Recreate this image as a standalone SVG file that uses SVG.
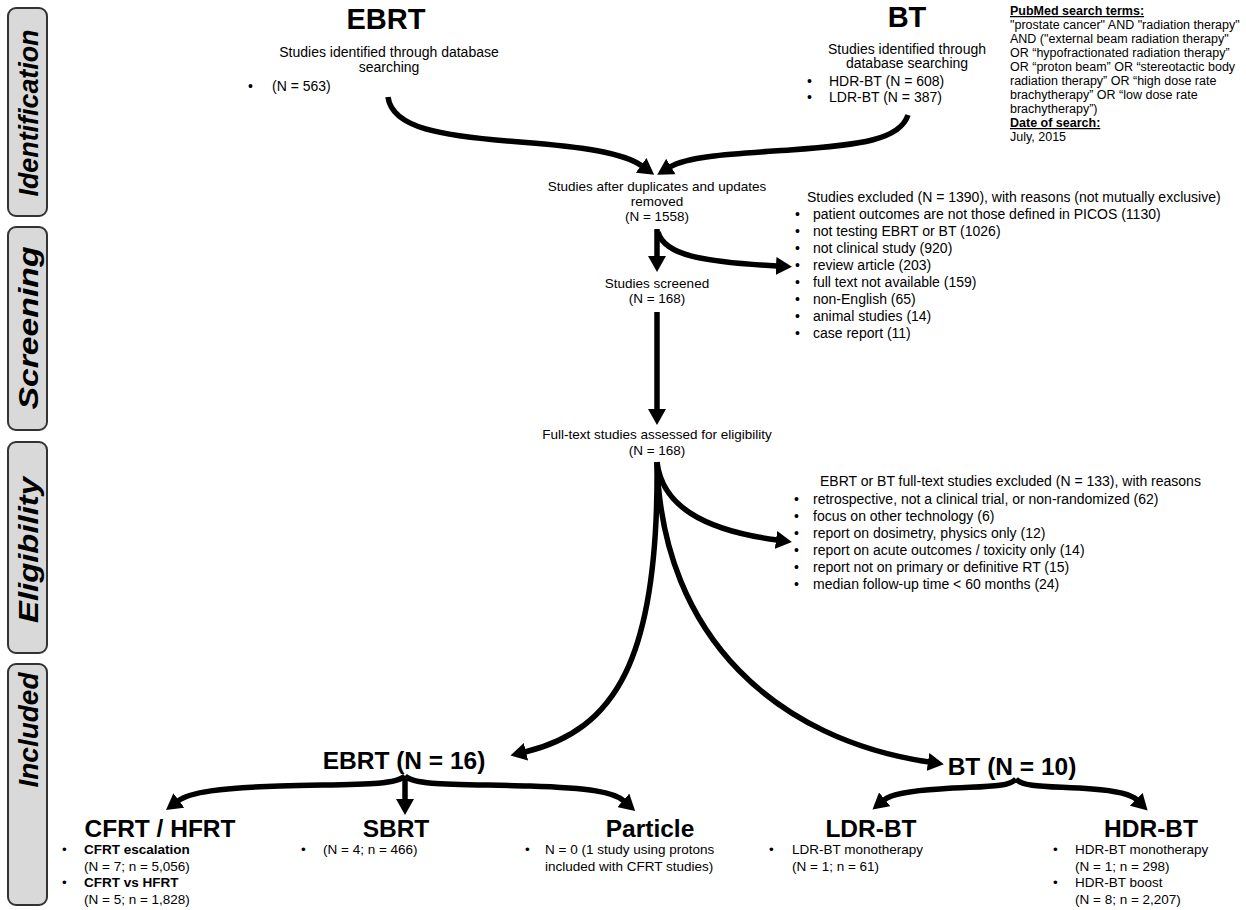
<svg xmlns="http://www.w3.org/2000/svg" width="1246" height="910" viewBox="0 0 1246 910">
<style>
text{font-family:"Liberation Sans",Arial,sans-serif;fill:#000}
.side{font-size:28px;font-weight:bold;font-style:italic;text-anchor:middle}
.box{fill:#d9d9d9;stroke:#333;stroke-width:2}
.h1{font-size:29px;font-weight:bold;text-anchor:middle}
.h2{font-size:24.5px;font-weight:bold;text-anchor:middle}
.h3{font-size:24.5px;font-weight:bold;text-anchor:middle}
.t14{font-size:14px}
.t13{font-size:13.5px}
.li{font-size:14px}
.pm{font-size:12.5px}
.b{font-weight:bold}
.u{text-decoration:underline}
.c{text-anchor:middle}
.bt{font-size:13.5px}
.arr{fill:none;stroke:#000;stroke-width:5.5}
</style>
<defs>
<marker id="ah" viewBox="0 0 16 18" markerWidth="16" markerHeight="18" markerUnits="userSpaceOnUse" refX="1" refY="9" orient="auto">
<path d="M0,0 L16,9 L0,18 z" fill="#000"/>
</marker>
</defs>

<g id="stage-identification">
<rect class="box" x="8" y="8" width="39" height="208" rx="8"/>
<text class="side" transform="translate(38,113) rotate(-90)" textLength="167" lengthAdjust="spacingAndGlyphs">Identification</text>
</g>
<g id="stage-screening">
<rect class="box" x="8" y="227" width="39" height="203" rx="8"/>
<text class="side" transform="translate(38,328) rotate(-90)" textLength="163" lengthAdjust="spacingAndGlyphs">Screening</text>
</g>
<g id="stage-eligibility">
<rect class="box" x="8" y="442" width="39" height="211" rx="8"/>
<text class="side" transform="translate(38,550) rotate(-90)" textLength="146" lengthAdjust="spacingAndGlyphs">Eligibility</text>
</g>
<g id="stage-included">
<rect class="box" x="8" y="664" width="39" height="241" rx="8"/>
<text class="side" transform="translate(38,730) rotate(-90)" textLength="115" lengthAdjust="spacingAndGlyphs">Included</text>
</g>

<g id="ebrt-search">
<text class="h1" x="386" y="29">EBRT</text>
<text class="t14 c" x="389" y="57">Studies identified through database</text>
<text class="t14 c" x="389" y="72">searching</text>
<text class="t14" x="248" y="91">•</text>
<text class="t14" x="272" y="91">(N = 563)</text>
</g>

<g id="bt-search">
<text class="h1" x="907" y="27">BT</text>
<text class="t14 c" x="907" y="54">Studies identified through</text>
<text class="t14 c" x="907" y="68">database searching</text>
<text class="t14" x="807" y="86">•</text>
<text class="t14" x="829" y="86">HDR-BT (N = 608)</text>
<text class="t14" x="807" y="102">•</text>
<text class="t14" x="829" y="102">LDR-BT (N = 387)</text>
</g>

<g id="pubmed-note">
<text class="pm b u" x="1010" y="15">PubMed search terms:</text>
<text class="pm" x="1010" y="29">"prostate cancer" AND "radiation therapy"</text>
<text class="pm" x="1010" y="43">AND ("external beam radiation therapy"</text>
<text class="pm" x="1010" y="57">OR “hypofractionated radiation therapy”</text>
<text class="pm" x="1010" y="71">OR “proton beam” OR “stereotactic body</text>
<text class="pm" x="1010" y="85">radiation therapy” OR “high dose rate</text>
<text class="pm" x="1010" y="99">brachytherapy”  OR “low dose rate</text>
<text class="pm" x="1010" y="113">brachytherapy”)</text>
<text class="pm b u" x="1010" y="127">Date of search:</text>
<text class="pm" x="1010" y="141">July, 2015</text>
</g>

<g id="after-duplicates">
<text class="t13 c" x="657" y="191">Studies after duplicates and updates</text>
<text class="t13 c" x="657" y="206">removed</text>
<text class="t13 c" x="657" y="221">(N = 1558)</text>
</g>

<g id="excluded-screening">
<text class="li" x="807" y="202">Studies excluded (N = 1390), with reasons (not mutually exclusive)</text>
<text class="li" x="795" y="219">•</text><text class="li" x="813" y="219">patient outcomes are not those defined in PICOS (1130)</text>
<text class="li" x="795" y="236">•</text><text class="li" x="813" y="236">not testing EBRT or BT (1026)</text>
<text class="li" x="795" y="253">•</text><text class="li" x="813" y="253">not clinical study (920)</text>
<text class="li" x="795" y="270">•</text><text class="li" x="813" y="270">review article (203)</text>
<text class="li" x="795" y="287">•</text><text class="li" x="813" y="287">full text not available (159)</text>
<text class="li" x="795" y="304">•</text><text class="li" x="813" y="304">non-English (65)</text>
<text class="li" x="795" y="321">•</text><text class="li" x="813" y="321">animal studies (14)</text>
<text class="li" x="795" y="338">•</text><text class="li" x="813" y="338">case report (11)</text>
</g>

<g id="screened">
<text class="t13 c" x="657" y="288">Studies screened</text>
<text class="t13 c" x="657" y="303">(N = 168)</text>
</g>

<g id="full-text">
<text class="t13 c" x="657" y="439">Full-text studies assessed for eligibility</text>
<text class="t13 c" x="657" y="455">(N = 168)</text>
</g>

<g id="excluded-eligibility">
<text class="li" x="820" y="486">EBRT or BT full-text studies excluded (N = 133), with reasons</text>
<text class="li" x="794" y="504">•</text><text class="li" x="813" y="504">retrospective, not a clinical trial, or non-randomized (62)</text>
<text class="li" x="794" y="521">•</text><text class="li" x="813" y="521">focus on other technology (6)</text>
<text class="li" x="794" y="538">•</text><text class="li" x="813" y="538">report on dosimetry, physics only (12)</text>
<text class="li" x="794" y="555">•</text><text class="li" x="813" y="555">report on acute outcomes / toxicity only (14)</text>
<text class="li" x="794" y="572">•</text><text class="li" x="813" y="572">report not on primary or definitive RT (15)</text>
<text class="li" x="794" y="589">•</text><text class="li" x="813" y="589">median follow-up time &lt; 60 months (24)</text>
</g>

<g id="ebrt-included">
<text class="h2" x="404" y="769">EBRT (N = 16)</text>
</g>
<g id="bt-included">
<text class="h2" x="1012" y="775">BT (N = 10)</text>
</g>

<g id="cfrt-hfrt">
<text class="h3" x="160" y="837">CFRT / HFRT</text>
<text class="bt" x="62" y="854">•</text><text class="bt b" x="84" y="854">CFRT escalation</text>
<text class="bt" x="84" y="871">(N = 7; n = 5,056)</text>
<text class="bt" x="62" y="887">•</text><text class="bt b" x="84" y="887">CFRT vs HFRT</text>
<text class="bt" x="84" y="904">(N = 5; n = 1,828)</text>
</g>
<g id="sbrt">
<text class="h3" x="396" y="837">SBRT</text>
<text class="bt" x="301" y="854">•</text><text class="bt" x="323" y="854">(N = 4; n = 466)</text>
</g>
<g id="particle">
<text class="h3" x="650" y="837">Particle</text>
<text class="bt" x="525" y="854">•</text><text class="bt" x="545" y="854">N = 0 (1 study using protons</text>
<text class="bt" x="545" y="871">included with CFRT studies)</text>
</g>
<g id="ldr-bt">
<text class="h3" x="871" y="837">LDR-BT</text>
<text class="bt" x="769" y="854">•</text><text class="bt" x="792" y="854">LDR-BT monotherapy</text>
<text class="bt" x="792" y="871">(N = 1; n = 61)</text>
</g>
<g id="hdr-bt">
<text class="h3" x="1151" y="837">HDR-BT</text>
<text class="bt" x="1053" y="854">•</text><text class="bt" x="1075" y="854">HDR-BT monotherapy</text>
<text class="bt" x="1075" y="871">(N = 1; n = 298)</text>
<text class="bt" x="1053" y="887">•</text><text class="bt" x="1075" y="887">HDR-BT boost</text>
<text class="bt" x="1075" y="904">(N = 8; n = 2,207)</text>
</g>

<g id="connectors">
<path class="arr" marker-end="url(#ah)" d="M388,97 C392,128 440,136 520,142 C585,147 624,153 642,166"/>
<path class="arr" marker-end="url(#ah)" d="M908,115 C900,140 860,145 790,150 C730,154 688,156 670,167"/>
<path class="arr" marker-end="url(#ah)" d="M657,229 V257"/>
<path class="arr" marker-end="url(#ah)" d="M658,232 C664,255 702,262 777,266"/>
<path class="arr" marker-end="url(#ah)" d="M657,312 V410"/>
<path class="arr" marker-end="url(#ah)" d="M657,462 C662,505 702,530 777,540"/>
<path class="arr" marker-end="url(#ah)" d="M657,462 C659,660 615,730 525,752"/>
<path class="arr" marker-end="url(#ah)" d="M657,462 C662,640 780,740 929,762"/>
<path class="arr" marker-end="url(#ah)" d="M405,776 C395,786 350,784 280,786 C220,788 190,792 178,801"/>
<path class="arr" marker-end="url(#ah)" d="M405,776 V800"/>
<path class="arr" marker-end="url(#ah)" d="M405,776 C415,786 460,784 530,786 C590,788 614,792 624,801"/>
<path class="arr" marker-end="url(#ah)" d="M1016,779 C1008,788 980,786 940,789 C905,791 890,795 884,800"/>
<path class="arr" marker-end="url(#ah)" d="M1016,779 C1024,788 1052,786 1092,789 C1120,791 1132,795 1137,800"/>
</g>
</svg>
